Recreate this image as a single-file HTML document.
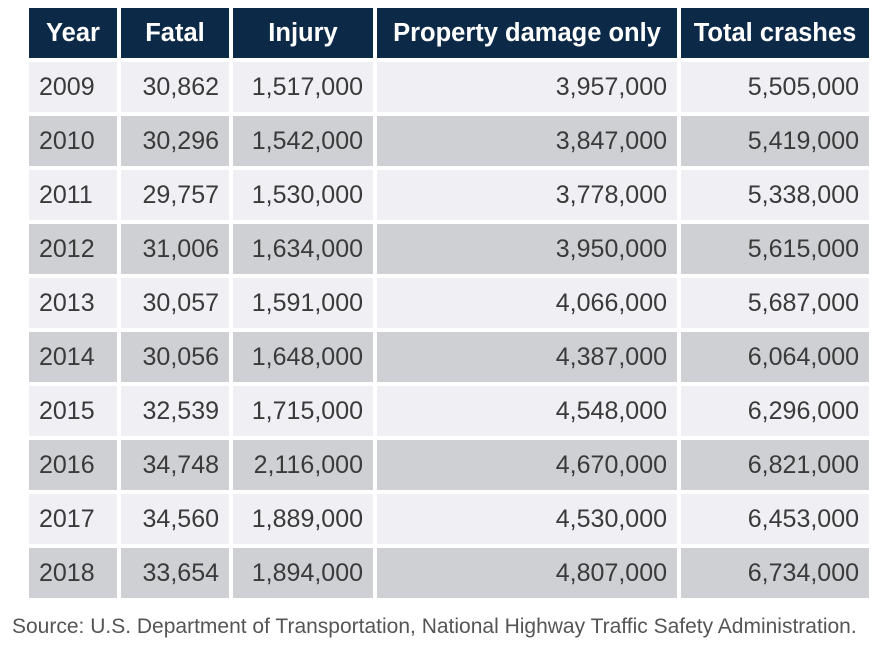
<!DOCTYPE html>
<html><head><style>
body{margin:0;width:882px;height:653px;background:#fff;position:relative;font-family:"Liberation Sans",sans-serif;overflow:hidden}
.c{position:absolute;box-sizing:border-box;height:50px;line-height:50px;font-size:25px;color:#3a3a3a;padding:0 10px;white-space:nowrap}
.h{background:#0c2a48;color:#fff;font-weight:bold;font-size:25.5px;text-align:center;padding:0 4px}
.l{background:#efeff4}.d{background:#cfd0d4}
.r{text-align:right}
.s{position:absolute;left:12px;top:615px;font-size:21px;color:#555}
</style></head><body>
<div id="t"></div>
<div class="s">Source: U.S. Department of Transportation, National Highway Traffic Safety Administration.</div>
<script>
var cols=[[29,88],[121,108],[233,140],[377,300],[681,188]];
var hd=["Year","Fatal","Injury","Property damage only","Total crashes"];
var data=[["2009","30,862","1,517,000","3,957,000","5,505,000"],["2010","30,296","1,542,000","3,847,000","5,419,000"],["2011","29,757","1,530,000","3,778,000","5,338,000"],["2012","31,006","1,634,000","3,950,000","5,615,000"],["2013","30,057","1,591,000","4,066,000","5,687,000"],["2014","30,056","1,648,000","4,387,000","6,064,000"],["2015","32,539","1,715,000","4,548,000","6,296,000"],["2016","34,748","2,116,000","4,670,000","6,821,000"],["2017","34,560","1,889,000","4,530,000","6,453,000"],["2018","33,654","1,894,000","4,807,000","6,734,000"]];
var h="";
for(var j=0;j<5;j++)h+='<div class="c h" style="left:'+cols[j][0]+'px;top:8px;width:'+cols[j][1]+'px">'+hd[j]+'</div>';
for(var i=0;i<10;i++)for(j=0;j<5;j++)h+='<div class="c '+(i%2?'d':'l')+(j?' r':'')+'" style="left:'+cols[j][0]+'px;top:'+(62+i*54)+'px;width:'+cols[j][1]+'px">'+data[i][j]+'</div>';
document.getElementById("t").innerHTML=h;
</script>
</body></html>
